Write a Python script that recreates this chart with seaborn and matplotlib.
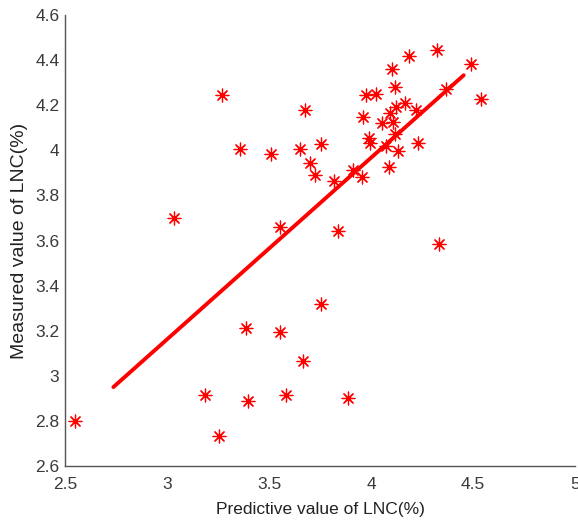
import numpy as np
import pandas as pd
import matplotlib
matplotlib.use("Agg")
import matplotlib.pyplot as plt
import seaborn as sns

# predicted vs measured leaf nitrogen content (%)
predicted = [2.547, 3.036, 3.186, 3.256, 3.268, 3.359, 3.386, 3.399, 3.508, 3.552,
             3.552, 3.585, 3.652, 3.667, 3.678, 3.703, 3.727, 3.753, 3.753, 3.819,
             3.838, 3.889, 3.913, 3.956, 3.962, 3.974, 3.992, 3.995, 4.025, 4.054,
             4.074, 4.087, 4.093, 4.104, 4.106, 4.119, 4.119, 4.131, 4.123, 4.168,
             4.185, 4.219, 4.229, 4.322, 4.333, 4.366, 4.490, 4.539]
measured = [2.800, 3.701, 2.915, 2.734, 4.245, 4.004, 3.213, 2.890, 3.985, 3.194,
            3.661, 2.915, 4.004, 3.064, 4.180, 3.945, 3.889, 4.027, 3.318, 3.862,
            3.643, 2.903, 3.911, 3.882, 4.149, 4.245, 4.053, 4.031, 4.250, 4.121,
            4.019, 3.927, 4.164, 4.361, 4.127, 4.279, 4.071, 3.998, 4.193, 4.208,
            4.420, 4.179, 4.031, 4.446, 3.584, 4.270, 4.381, 4.227]

# fitted line end points as drawn
fit_x = [2.737, 4.454]
fit_y = [2.950, 4.333]

x_ticks = [2.5, 3, 3.5, 4, 4.5, 5]
x_labels = ["2.5", "3", "3.5", "4", "4.5", "5"]
y_ticks = [2.6, 2.8, 3.0, 3.2, 3.4, 3.6, 3.8, 4.0, 4.2, 4.4, 4.6]
y_labels = ["2.6", "2.8", "3", "3.2", "3.4", "3.6", "3.8", "4", "4.2", "4.4", "4.6"]

df = pd.DataFrame({"pred": predicted, "meas": measured})
fit = pd.DataFrame({"x": fit_x, "y": fit_y})

sns.set_style("white")
plt.rcParams["font.family"] = ["Liberation Sans", "DejaVu Sans"]

fig = plt.figure(figsize=(5.78, 5.27), dpi=100)
ax = fig.add_axes([0.1125, 0.1157, 0.8825, 0.8558])

sns.scatterplot(data=df, x="pred", y="meas", ax=ax, marker=(8, 2, 0),
                s=85, color="red", edgecolor="red", linewidth=0.9, zorder=3)
sns.lineplot(data=fit, x="x", y="y", ax=ax, color="red", linewidth=2.8, zorder=2)

ax.set_xlim(2.5, 5)
ax.set_ylim(2.6, 4.6)
ax.set_xticks(x_ticks)
ax.set_xticklabels(x_labels)
ax.set_yticks(y_ticks)
ax.set_yticklabels(y_labels)
ax.tick_params(direction="in", length=4, width=1, colors="#555555",
               labelcolor="#3a3a3a", labelsize=12.5)
ax.tick_params(axis="x", pad=8)
ax.tick_params(axis="y", pad=4)

for side in ["top", "right"]:
    ax.spines[side].set_visible(False)
for side in ["left", "bottom"]:
    ax.spines[side].set_color("#555555")
    ax.spines[side].set_linewidth(1)

ax.set_xlabel("Predictive value of LNC(%)", fontsize=12.5, color="#222222", labelpad=7)
ax.set_ylabel("Measured value of LNC(%)", fontsize=14, color="#222222", labelpad=5)

fig.savefig("out.png", dpi=100, facecolor="white")
